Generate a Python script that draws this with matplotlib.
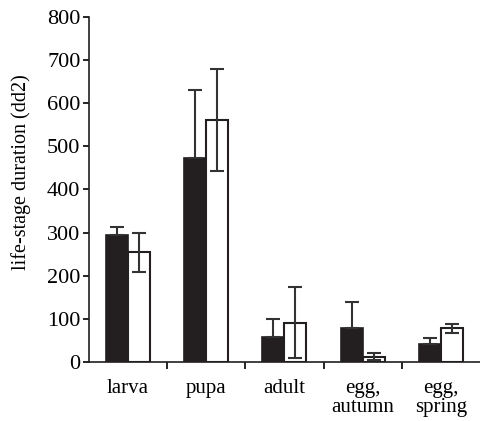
import numpy as np
from matplotlib import pyplot as plt

stages = ['larva', 'pupa', 'adult', 'egg,\nautumn', 'egg,\nspring']
black_vals = [294, 474, 59, 78, 43]
black_err_up = [19, 157, 41, 62, 12]
white_vals = [254, 561, 91, 12, 78]
white_err = [45, 118, 82, 8, 10]

plt.rcParams['font.family'] = 'serif'
plt.rcParams['font.serif'] = ['Liberation Serif']

fig = plt.figure(figsize=(4.8, 4.21), dpi=100)
ax = fig.add_axes([0.185, 0.140, 0.815, 0.820])

x = np.arange(len(stages))
w = 0.28
ax.bar(x - w / 2, black_vals, w, color='#231f20', edgecolor='#231f20', linewidth=1.2)
ax.bar(x + w / 2, white_vals, w, color='white', edgecolor='#231f20', linewidth=1.5)
ax.errorbar(x - w / 2, black_vals, yerr=[np.zeros(len(stages)), black_err_up],
            fmt='none', ecolor='#333333', elinewidth=1.5, capsize=5, capthick=1.5)
ax.errorbar(x + w / 2, white_vals, yerr=white_err,
            fmt='none', ecolor='#333333', elinewidth=1.5, capsize=5, capthick=1.5)

ax.set_xlim(-0.5, len(stages) - 0.5)
ax.set_ylim(0, 800)
ax.set_yticks(range(0, 801, 100))
ax.tick_params(axis='y', labelsize=16, length=4, width=1.2, direction='out', pad=2)
ax.set_xticks(np.arange(0.5, len(stages) - 0.5, 1))
ax.set_xticklabels([])
ax.set_xticks(x, minor=True)
ax.set_xticklabels(stages, minor=True, fontsize=15, linespacing=1.05)
ax.tick_params(axis='x', which='major', length=5, width=1.2, direction='out')
ax.tick_params(axis='x', which='minor', length=0, pad=12)
ax.set_ylabel('life-stage duration (dd2)', fontsize=14.5)
ax.yaxis.set_label_coords(-0.148, 0.55)

for s in ['top', 'right']:
    ax.spines[s].set_visible(False)
for s in ['left', 'bottom']:
    ax.spines[s].set_linewidth(1.2)
    ax.spines[s].set_color('#231f20')

fig.savefig('out.png', dpi=100)
